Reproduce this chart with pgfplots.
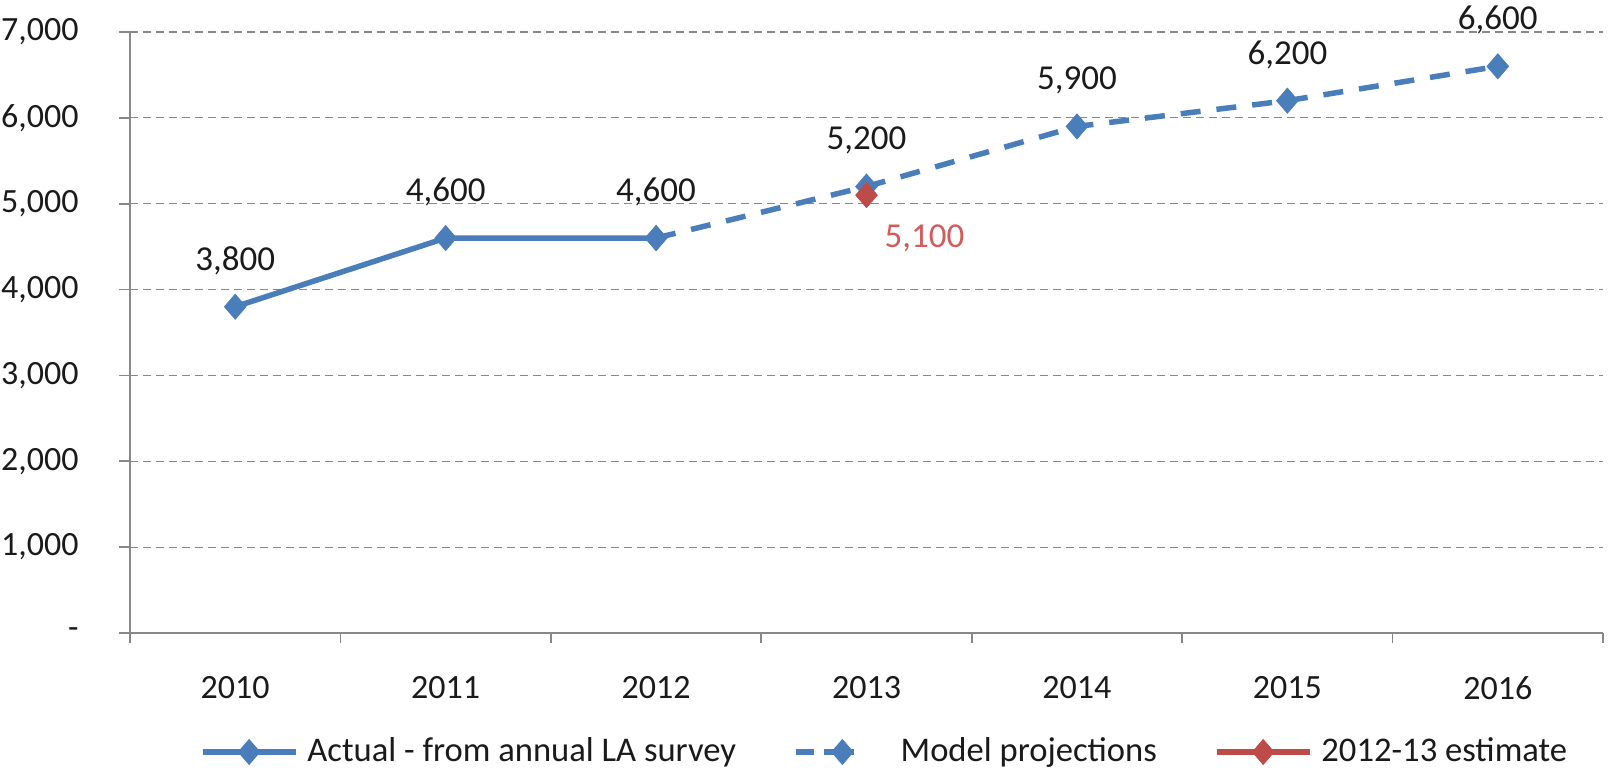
\documentclass[border=0pt]{standalone}
\usepackage{pgfplots}
\pgfplotsset{compat=1.18}
\usepackage{fontspec}
\setmainfont{Carlito}
\definecolor{lblue}{HTML}{4A7EBB}
\definecolor{lred}{HTML}{BE4B48}
\definecolor{lblred}{HTML}{D05C5C}
\definecolor{gridgray}{HTML}{888888}
\definecolor{txt}{HTML}{1A1A1A}
\begin{document}
\fontsize{17}{20}\selectfont
\begin{tikzpicture}
\begin{axis}[
  scale only axis, width=736.5pt, height=300.5pt,
  clip=false,
  xmin=-0.5, xmax=6.5, ymin=0, ymax=7000,
  axis lines*=left,
  axis line style={gridgray, line width=0.8pt},
  xtick={0,1,2,3,4,5,6},
  xticklabels={2010,2011,2012,2013,2014,2015,2016},
  major x tick style={draw=none},
  minor xtick={-0.5,0.5,1.5,2.5,3.5,4.5,5.5,6.5},
  minor x tick style={gridgray, line width=0.8pt},
  minor tick length=5pt,
  major tick length=5.5pt,
  tick align=outside,
  ytick={0,1000,2000,3000,4000,5000,6000,7000},
  yticklabels={-\hspace{8pt},{1,000},{2,000},{3,000},{4,000},{5,000},{6,000},{7,000}},
  major y tick style={gridgray, line width=0.8pt},
  ymajorgrids,
  major grid style={gridgray, line width=0.6pt, dash pattern=on 4pt off 2.5pt},
  xticklabel style={anchor=north, inner sep=0pt, yshift=-16pt, text=txt, font=\fontsize{17}{20}\selectfont},
  yticklabel style={anchor=east, inner sep=0pt, xshift=-20pt, text=txt, font=\fontsize{17}{20}\selectfont},
  point meta=explicit symbolic,
  legend columns=3,
  legend style={at={(0.5115,-0.198)}, anchor=center, draw=none, fill=none,
    font=\fontsize{17.3}{20}\selectfont, text=txt,
    nodes={inner sep=0pt},
    /tikz/every odd column/.append style={column sep=4.5pt},
    /tikz/every even column/.append style={column sep=28.5pt}},
  legend image code/.code={%
    \draw[mark repeat=2,mark phase=2,#1] plot coordinates {(0pt,0pt) (23.25pt,0pt) (46.5pt,0pt)};},
]
\addplot[lblue, line width=2.75pt, mark=diamond*,
  mark options={solid, line width=0.4pt, xscale=1.15}, mark size=6.25pt,
  nodes near coords, every node near coord/.style={txt, anchor=center, yshift=23pt, font=\fontsize{17.5}{20}\selectfont}]
  coordinates {(0,3800)[3,800] (1,4600)[4,600] (2,4600)[4,600]};
\addlegendentry{Actual - from annual LA survey}
\addplot[lblue, line width=2.75pt, dash pattern=on 10pt off 8pt, mark=diamond*,
  mark options={solid, line width=0.4pt, xscale=1.15}, mark size=6.25pt,
  nodes near coords, every node near coord/.style={txt, anchor=center, yshift=23pt, font=\fontsize{17.5}{20}\selectfont},
  legend image post style={dash pattern=on 9pt off 5pt on 15pt off 40pt}]
  coordinates {(2,4600)[{}] (3,5200)[5,200] (4,5900)[5,900] (5,6200)[6,200] (6,6600)[6,600]};
\addlegendentry{Model projections}
\addplot[lred, line width=2.75pt, mark=diamond*,
  mark options={solid, line width=0.4pt, xscale=1.15}, mark size=6.25pt,
  nodes near coords, every node near coord/.style={lblred, anchor=center, xshift=29pt, yshift=-21.5pt, font=\fontsize{17.5}{20}\selectfont}]
  coordinates {(3,5100)[5,100]};
\addlegendentry{2012-13 estimate}
\coordinate (BL) at (rel axis cs:0,0);
\coordinate (TR) at (rel axis cs:1,1);
\end{axis}
\pgfresetboundingbox
\path[use as bounding box] ([shift={(-65pt,-68pt)}]BL) rectangle ([shift={(2.5pt,16pt)}]TR);
\end{tikzpicture}
\end{document}
